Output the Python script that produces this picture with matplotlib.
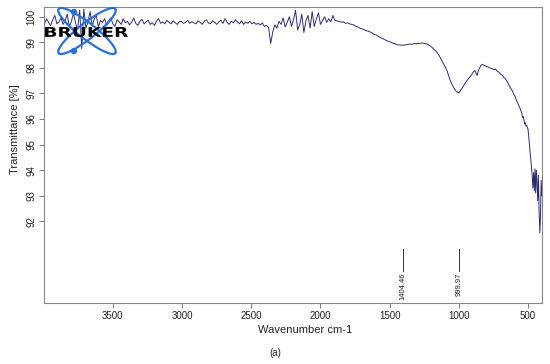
import numpy as np
import matplotlib
matplotlib.use('Agg')
import matplotlib.pyplot as plt
from matplotlib.patches import Ellipse, Circle, PathPatch
from matplotlib.textpath import TextPath
from matplotlib.font_manager import FontProperties
from matplotlib.transforms import Affine2D

plt.rcParams['font.family'] = ['Liberation Sans', 'DejaVu Sans']

# noisy baseline region, 3995 -> 1895 cm-1
wn_noisy = [3995, 3980, 3965, 3950, 3935, 3920, 3905, 3890, 3875, 3860,
            3845, 3830, 3815, 3800, 3785, 3770, 3755, 3740, 3725, 3710,
            3695, 3680, 3665, 3650, 3635, 3620, 3605, 3590, 3575, 3560,
            3545, 3530, 3515, 3500, 3485, 3470, 3455, 3440, 3425, 3410,
            3395, 3380, 3365, 3350, 3335, 3320, 3305, 3290, 3275, 3260,
            3245, 3230, 3215, 3200, 3185, 3170, 3155, 3140, 3125, 3110,
            3095, 3080, 3065, 3050, 3035, 3020, 3005, 2990, 2975, 2960,
            2945, 2930, 2915, 2900, 2885, 2870, 2855, 2840, 2825, 2810,
            2795, 2780, 2765, 2750, 2735, 2720, 2705, 2690, 2675, 2660,
            2645, 2630, 2615, 2600, 2585, 2570, 2555, 2540, 2525, 2510,
            2495, 2480, 2465, 2450, 2435, 2420, 2405, 2390, 2375, 2360,
            2345, 2330, 2315, 2300, 2285, 2270, 2255, 2240, 2225, 2210,
            2195, 2180, 2165, 2150, 2135, 2120, 2105, 2090, 2075, 2060,
            2045, 2030, 2015, 2000, 1985, 1970, 1955, 1940, 1925, 1910,
            1895]
tr_noisy = [99.70, 99.92, 99.78, 99.65, 99.88, 100.05, 99.72, 99.80, 99.95, 99.70,
            99.85, 100.10, 99.60, 99.82, 100.15, 99.75, 99.50, 100.25, 98.75, 100.30,
            99.55, 99.80, 100.20, 99.65, 99.90, 100.05, 99.60, 99.85, 99.78, 99.92,
            99.66, 99.84, 99.95, 99.72, 99.62, 99.88, 99.80, 99.70, 99.92, 99.76,
            99.82, 99.68, 99.78, 99.95, 99.74, 99.66, 99.82, 99.90, 99.72, 99.80,
            99.86, 99.70, 99.76, 99.66, 99.84, 99.92, 99.74, 99.80, 99.72, 99.86,
            99.78, 99.72, 99.84, 99.76, 99.70, 99.80, 99.82, 99.74, 99.78, 99.86,
            99.74, 99.80, 99.76, 99.72, 99.84, 99.78, 99.70, 99.82, 99.88, 99.76,
            99.72, 99.84, 99.78, 99.70, 99.80, 99.86, 99.74, 99.92, 99.78, 99.70,
            99.82, 99.76, 99.88, 99.80, 99.72, 99.84, 99.70, 99.80, 99.74, 99.82,
            99.72, 99.78, 99.70, 99.74, 99.68, 99.76, 99.62, 99.66, 99.58, 98.95,
            99.40, 99.68, 99.55, 99.82, 99.70, 99.95, 99.60, 99.78, 100.00, 99.62,
            99.88, 100.25, 99.48, 99.70, 100.10, 99.38, 99.85, 100.05, 99.55, 100.20,
            99.62, 99.90, 100.15, 99.70, 99.85, 100.00, 99.78, 99.92, 99.80, 100.05,
            99.85]

# smoother fingerprint region, 1865 -> 400 cm-1
wn_fp = [1865, 1850, 1835, 1820, 1805, 1790, 1775, 1760, 1745, 1730,
         1715, 1700, 1685, 1670, 1655, 1640, 1625, 1610, 1595, 1580,
         1565, 1550, 1535, 1520, 1505, 1490, 1475, 1460, 1445, 1430,
         1415, 1400, 1385, 1370, 1355, 1340, 1325, 1310, 1295, 1280,
         1265, 1250, 1235, 1220, 1205, 1190, 1175, 1160, 1145, 1130,
         1115, 1100, 1085, 1070, 1055, 1040, 1025, 1010, 1000, 990,
         975, 960, 945, 930, 915, 900, 885, 875, 868, 860,
         850, 840, 830, 820, 810, 800, 785, 770, 755, 745,
         735, 725, 715, 705, 695, 685, 675, 665, 655, 645,
         635, 625, 615, 605, 595, 585, 575, 565, 555, 545,
         540, 535, 530, 525, 520, 515, 510, 505, 500, 495,
         490, 485, 480, 475, 470, 465, 460, 455, 450, 445,
         440, 435, 430, 425, 420, 415, 410, 405, 400]
tr_fp = [99.82, 99.78, 99.80, 99.74, 99.76, 99.72, 99.70, 99.68, 99.62, 99.60,
         99.55, 99.52, 99.50, 99.45, 99.44, 99.40, 99.36, 99.30, 99.28, 99.22,
         99.18, 99.14, 99.10, 99.06, 99.03, 99.00, 98.96, 98.94, 98.90, 98.90,
         98.88, 98.89, 98.90, 98.91, 98.93, 98.92, 98.95, 98.94, 98.96, 98.96,
         98.97, 98.95, 98.94, 98.90, 98.85, 98.78, 98.70, 98.62, 98.50, 98.36,
         98.20, 98.05, 97.88, 97.62, 97.42, 97.25, 97.12, 97.04, 97.02, 97.10,
         97.22, 97.35, 97.48, 97.58, 97.68, 97.80, 97.90, 97.78, 97.70, 97.88,
         98.00, 98.10, 98.14, 98.10, 98.08, 98.05, 98.02, 97.98, 97.96, 97.92,
         97.95, 97.88, 97.85, 97.80, 97.74, 97.70, 97.62, 97.58, 97.50, 97.40,
         97.30, 97.20, 97.12, 96.98, 96.90, 96.75, 96.62, 96.50, 96.38, 96.22,
         96.05, 96.10, 95.98, 95.80, 95.85, 95.72, 95.75, 95.66, 95.60, 95.30,
         95.00, 94.70, 94.40, 94.10, 93.80, 93.30, 93.90, 93.20, 94.05, 93.10,
         94.00, 93.50, 92.80, 93.80, 92.40, 91.55, 92.20, 93.60, 93.00]

peak_wn = [1404.46, 999.97]
peak_labels = ['1404.46', '999.97']

x_ticks = [3500, 3000, 2500, 2000, 1500, 1000, 500]
y_ticks = [92, 93, 94, 95, 96, 97, 98, 99, 100]

wn = np.array(wn_noisy + wn_fp)
tr = np.array(tr_noisy + tr_fp)

fig = plt.figure(figsize=(5.5, 3.64), dpi=100)
ax = fig.add_axes([0.08, 0.1676, 0.9055, 0.8132])

ax.plot(wn, tr, color='#2e2e72', lw=0.7)
ax.set_xlim(3998, 399)
ax.set_ylim(88.8, 100.38)

# peak markers
for w, lab in zip(peak_wn, peak_labels):
    ax.plot([w, w], [90.07, 90.93], color='#333333', lw=0.7)
    ax.text(w, 89.98, lab, rotation=90, ha='center', va='top', fontsize=5.5, color='#222222')

ax.set_xticks(x_ticks)
ax.set_yticks(y_ticks)
ax.set_xticklabels([str(t) for t in x_ticks])
ax.set_yticklabels([str(t) for t in y_ticks], rotation=90, va='center')
ax.tick_params(axis='both', labelsize=7, length=3.5, width=0.7, color='#777777', pad=2,
               labelcolor='#222222')
for s in ax.spines.values():
    s.set_color('#888888')
    s.set_linewidth(0.8)

fig.text(15 / 550, 1 - 129 / 364, 'Transmittance [%]', rotation=90, ha='center', va='center',
         fontsize=8, color='#222222')
fig.text(305 / 550, 1 - 330 / 364, 'Wavenumber cm-1', ha='center', va='center',
         fontsize=8, color='#222222')
fig.text(275 / 550, 1 - 353 / 364, '(a)', ha='center', va='center', fontsize=7, color='#222222')

# Bruker logo, drawn in inch coordinates
px = 1 / 100.0
H = 364
blue = '#2a6fdc'
for ang in (38, -38):
    e = Ellipse((87 * px, (H - 31) * px), 72 * px, 16 * px, angle=ang, fill=False,
                ec=blue, lw=1.6, transform=fig.dpi_scale_trans)
    fig.add_artist(e)
for cx, cy in [(74, 12), (74, 51)]:
    fig.add_artist(Circle((cx * px, (H - cy) * px), 2.5 * px, color=blue,
                          transform=fig.dpi_scale_trans))
tp = TextPath((0, 0), 'BRUKER', size=1, prop=FontProperties(family='DejaVu Sans', weight='bold'))
bb = tp.get_extents()
sx = 83 * px / bb.width
sy = 10 * px / bb.height
tf = Affine2D().translate(-bb.x0, -bb.y0).scale(sx, sy).translate(45 * px, (H - 37) * px)
fig.add_artist(PathPatch(tp, fc='black', ec='none', transform=tf + fig.dpi_scale_trans))

fig.savefig('out.png', dpi=100)
